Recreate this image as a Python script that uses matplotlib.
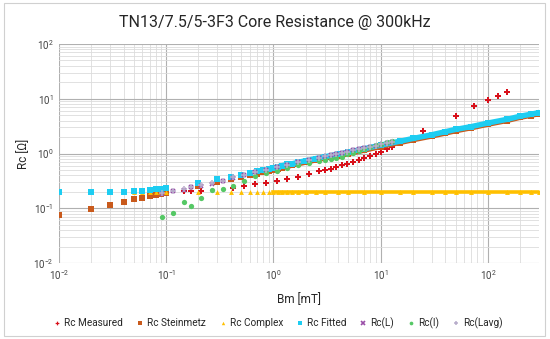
import matplotlib
matplotlib.use("Agg")
import matplotlib.pyplot as plt
from matplotlib.patches import Rectangle
from matplotlib.ticker import LogLocator, NullFormatter

plt.rcParams['font.family'] = ['Roboto', 'DejaVu Sans']

# model grid (Steinmetz / complex / fitted)
b_model = [0.01, 0.02, 0.03, 0.04, 0.05, 0.06, 0.07, 0.08, 0.09, 0.1,
           0.2, 0.3, 0.4, 0.5, 0.6, 0.7, 0.8, 0.9, 1.0,
           1.1, 1.2, 1.35, 1.5, 1.7, 2, 2.5, 3, 4, 5, 7, 10, 15, 20, 30, 40, 50, 70,
           100, 150, 200, 250, 300]
rc_steinmetz = [0.075, 0.097, 0.116, 0.130, 0.146, 0.157, 0.168, 0.174, 0.181, 0.19,
                0.25, 0.30, 0.34, 0.37, 0.40, 0.42, 0.45, 0.48, 0.51,
                0.53, 0.55, 0.58, 0.61, 0.645, 0.69, 0.76, 0.82, 0.91, 0.99, 1.14, 1.33, 1.57, 1.77, 2.07, 2.34, 2.58, 2.93,
                3.4, 3.97, 4.55, 4.93, 5.3]
rc_complex = [0.2] * len(b_model)
rc_fitted = [0.2, 0.2, 0.197, 0.2, 0.205, 0.21, 0.215, 0.222, 0.228, 0.234,
             0.29, 0.34, 0.37, 0.41, 0.44, 0.47, 0.50, 0.52, 0.55,
             0.57, 0.60, 0.63, 0.65, 0.69, 0.74, 0.81, 0.87, 0.97, 1.06, 1.22, 1.42, 1.67, 1.88, 2.2, 2.5, 2.75, 3.1,
             3.6, 4.2, 4.8, 5.2, 5.6]

# measurement points
b_meas = [0.145, 0.171, 0.21, 0.42, 0.53, 0.67, 0.85, 1.07, 1.34, 1.69, 2.14, 2.69,
          3.02, 3.41, 3.85, 4.35, 4.88, 5.51, 6.22, 7.04, 7.94, 8.97, 10.1, 11.5, 12.9,
          25, 50, 75, 100, 125, 150]
rc_measured = [0.204, 0.206, 0.208, 0.235, 0.254, 0.273, 0.288, 0.31, 0.347, 0.372, 0.425, 0.473,
               0.49, 0.53, 0.565, 0.605, 0.65, 0.70, 0.767, 0.82, 0.89, 0.98, 1.07, 1.22, 1.33,
               2.54, 4.84, 7.24, 9.3, 11.3, 13.2]

b_lab = [0.091, 0.115, 0.145, 0.171, 0.21, 0.27, 0.34, 0.42, 0.53, 0.67, 0.85, 1.07,
         1.34, 1.69, 2.14, 2.69, 3.02, 3.41, 3.85, 4.35, 4.88, 5.51, 6.22, 7.04,
         7.94, 8.97, 10.1, 11.5, 12.9]
rc_l = [0.185, 0.205, 0.215, 0.24, 0.255, 0.28, 0.31, 0.36, 0.40, 0.45, 0.50, 0.56,
        0.62, 0.69, 0.76, 0.84, 0.88, 0.93, 0.98, 1.03, 1.08, 1.14, 1.2, 1.26,
        1.32, 1.39, 1.46, 1.55, 1.62]
rc_i = [0.0695, 0.0835, 0.130, 0.109, 0.157, 0.212, 0.221, 0.254, 0.313, 0.386, 0.446, 0.47,
        0.54, 0.62, 0.667, 0.716, 0.746, 0.79, 0.835, 0.88, 0.96, 1.03, 1.12, 1.22,
        1.34, 1.42, 1.5, 1.6, 1.72]
rc_lavg = [0.19, 0.21, 0.222, 0.248, 0.262, 0.287, 0.318, 0.365, 0.405, 0.455, 0.505, 0.565,
           0.625, 0.695, 0.765, 0.845, 0.885, 0.935, 0.985, 1.035, 1.085, 1.145, 1.205, 1.265,
           1.325, 1.395, 1.465, 1.555, 1.625]

fig = plt.figure(figsize=(5.5, 3.39), dpi=100)
fig.patches.append(Rectangle((4 / 550, 3 / 339), 541 / 550, 333 / 339, transform=fig.transFigure,
                             fill=False, edgecolor='#D0D0D0', linewidth=0.8))
ax = fig.add_axes([59 / 550, 1 - 263 / 339, 480 / 550, 219 / 339])

c_meas = '#D8101A'
c_stein = '#C95A1C'
c_comp = '#FFC000'
c_fit = '#1DCDF2'
c_l = '#9A4FA8'
c_i = '#55C865'
c_lavg = '#B8ADCB'

# dense part of the model curves is drawn as a band
dense = [i for i, b in enumerate(b_model) if b >= 1.0]
ax.plot(b_meas, rc_measured, 'P', color=c_meas, ms=3.8, mew=0, label='Rc Measured', zorder=3)
ax.plot(b_model, rc_steinmetz, 's', color=c_stein, ms=3.8, mew=0, label='Rc Steinmetz', zorder=4)
ax.plot([b_model[i] for i in dense], [rc_steinmetz[i] for i in dense], '-', color=c_stein,
        lw=3.6, zorder=4)
ax.plot(b_model, rc_complex, '^', color=c_comp, ms=3.5, mew=0, label='Rc Complex', zorder=5)
ax.plot([b_model[i] for i in dense], [rc_complex[i] for i in dense], '-', color=c_comp,
        lw=2.6, zorder=5)
ax.plot(b_model, rc_fitted, 's', color=c_fit, ms=3.8, mew=0, label='Rc Fitted', zorder=6)
ax.plot([b_model[i] for i in dense], [rc_fitted[i] for i in dense], '-', color=c_fit,
        lw=3.9, zorder=6)
ax.plot(b_lab, rc_l, 'x', color=c_l, ms=3.4, mew=1.2, label='Rc(L)', zorder=7)
ax.plot(b_lab, rc_i, 'o', color=c_i, ms=3.8, mew=0, label='Rc(I)', zorder=8)
ax.plot(b_lab, rc_lavg, '+', color=c_lavg, ms=4, mew=1.1, label='Rc(Lavg)', zorder=9)

ax.set_xscale('log')
ax.set_yscale('log')
ax.set_xlim(0.01, 300)
ax.set_ylim(0.01, 100)
for axis in (ax.xaxis, ax.yaxis):
    axis.set_minor_locator(LogLocator(base=10, subs=range(2, 10), numticks=20))
    axis.set_minor_formatter(NullFormatter())
ax.grid(True, which='major', color='#B0B0B0', lw=0.8)
ax.grid(True, which='minor', color='#DCDCDC', lw=0.6)
ax.set_axisbelow(True)
for s in ax.spines.values():
    s.set_visible(False)
ax.tick_params(which='both', length=0, labelsize=7, colors='#404040', pad=4)

fig.suptitle('TN13/7.5/5-3F3 Core Resistance @ 300kHz', x=0.5, y=1 - 23 / 339, va='center',
             fontsize=11.5, color='#262626')
ax.set_xlabel('Bm [mT]', fontsize=8.5, color='#262626', labelpad=8)
ax.set_ylabel('Rc [\u03a9]', fontsize=8.5, color='#262626', labelpad=2)

leg = fig.legend(loc='center', bbox_to_anchor=(0.507, 1 - 323 / 339), ncol=7, frameon=False,
                 fontsize=7.2, handlelength=0.4, handletextpad=0.5, columnspacing=1.5,
                 markerscale=0.7, labelcolor='#262626')

fig.savefig('out.png', dpi=100)
